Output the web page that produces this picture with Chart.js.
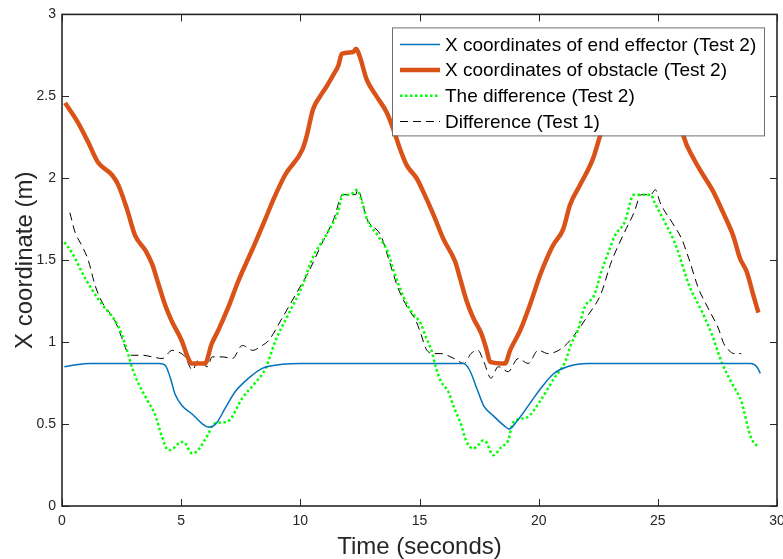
<!DOCTYPE html>
<html>
<head>
<meta charset="utf-8">
<title>X coordinate vs time</title>
<script src="https://cdn.jsdelivr.net/npm/chart.js@4.4.1/dist/chart.umd.min.js"></script>
<style>
    html, body { margin: 0; padding: 0; background: #fff; }
    canvas { display: block; }
</style>
</head>
<body>
<canvas id="plot" width="783" height="559"></canvas>
<script>
// end effector, test 2
const effectorT = [0.1, 0.5, 1.2, 4.1, 4.35, 4.55, 4.75, 5.05, 5.47, 5.9, 6.15, 6.45, 6.86, 7.28, 7.83, 8.4, 9.25, 10.0,
    16.85, 17.1, 17.45, 17.7, 18.1, 18.55, 18.76, 19.1, 19.7, 20.1, 20.65, 21.2, 22.1, 28.9, 29.15, 29.3];
const effectorX = [0.85, 0.86, 0.87, 0.87, 0.855, 0.78, 0.68, 0.61, 0.56, 0.50, 0.48, 0.50, 0.60, 0.70, 0.78, 0.84, 0.865, 0.87,
    0.87, 0.83, 0.70, 0.61, 0.55, 0.49, 0.47, 0.52, 0.64, 0.72, 0.81, 0.85, 0.87, 0.87, 0.85, 0.81];

// obstacle, test 2
const obstacleT = [0.13, 0.67, 1.1, 1.5, 2.1, 2.36, 2.73, 3.07, 3.5, 3.8, 3.95, 4.32, 4.6, 5.02, 5.3, 5.44, 6.0, 6.28, 6.55,
    6.97, 7.39, 7.75, 8.0, 8.5, 8.9, 9.36, 10.1, 10.27, 10.53, 10.83, 11.1, 11.38, 11.6, 11.74, 12.22, 12.34, 12.5,
    12.79, 13.2, 13.63, 13.9, 14.18, 14.46, 14.88, 15.15, 15.58, 16.0, 16.5, 16.7, 16.98, 17.25, 17.6, 17.82, 17.96,
    18.59, 18.8, 19.22, 19.64, 20.06, 20.34, 20.6, 21.03, 21.32, 21.74, 22.28, 22.58, 23.0, 23.6, 24.2, 24.6, 25.0,
    25.4, 25.8, 26.07, 26.5, 26.9, 27.32, 27.74, 28.16, 28.45, 28.73, 29.0, 29.22];
const obstacleX = [2.46, 2.34, 2.22, 2.10, 2.02, 1.96, 1.81, 1.65, 1.56, 1.47, 1.40, 1.23, 1.13, 1.01, 0.90, 0.87, 0.87, 0.99, 1.07,
    1.21, 1.37, 1.49, 1.57, 1.74, 1.88, 2.02, 2.18, 2.26, 2.42, 2.50, 2.56, 2.63, 2.69, 2.76, 2.77, 2.79, 2.74,
    2.60, 2.50, 2.40, 2.30, 2.18, 2.08, 2.00, 1.92, 1.78, 1.63, 1.49, 1.39, 1.25, 1.15, 1.05, 0.95, 0.88,
    0.87, 0.95, 1.07, 1.23, 1.41, 1.51, 1.59, 1.69, 1.84, 1.96, 2.12, 2.26, 2.42, 2.58, 2.70, 2.77, 2.79,
    2.70, 2.45, 2.26, 2.12, 2.02, 1.92, 1.79, 1.65, 1.51, 1.43, 1.29, 1.18];

// difference, test 2
const diff2T = [0.1, 0.4, 0.97, 1.68, 2.23, 2.5, 2.73, 2.95, 3.2, 3.6, 3.9, 4.2, 4.46, 4.75, 4.96, 5.1, 5.47, 5.7, 6.14,
    6.35, 6.73, 7.0, 7.57, 8.1, 8.54, 8.96, 9.5, 10.1, 10.5, 11.15, 11.57, 11.78, 12.1, 12.37, 12.6, 12.8, 13.25,
    13.67, 13.93, 14.35, 14.64, 15.06, 15.27, 15.5, 15.7, 15.9, 16.2, 16.45, 16.74, 16.95, 17.25, 17.45, 17.67, 17.8,
    18.09, 18.43, 18.72, 18.93, 19.5, 20.06, 20.65, 21.08, 21.37, 21.66, 21.92, 22.34, 22.63, 22.93, 23.2, 23.6, 24.0,
    24.7, 24.87, 25.3, 25.7, 25.9, 26.3, 26.84, 27.26, 27.7, 28.1, 28.5, 28.9, 29.2];
const diff2X = [1.61, 1.55, 1.39, 1.23, 1.13, 1.05, 0.95, 0.84, 0.75, 0.64, 0.56, 0.42, 0.34, 0.36, 0.39, 0.39, 0.32, 0.34, 0.44,
    0.50, 0.51, 0.52, 0.66, 0.75, 0.84, 1.01, 1.17, 1.35, 1.51, 1.67, 1.79, 1.90, 1.90, 1.93, 1.85, 1.75, 1.65,
    1.55, 1.43, 1.27, 1.19, 1.11, 1.03, 0.95, 0.84, 0.76, 0.70, 0.60, 0.50, 0.40, 0.35, 0.37, 0.40, 0.39,
    0.31, 0.36, 0.40, 0.51, 0.54, 0.64, 0.78, 0.87, 0.99, 1.08, 1.21, 1.29, 1.43, 1.55, 1.65, 1.73, 1.90,
    1.90, 1.85, 1.73, 1.61, 1.53, 1.35, 1.19, 1.05, 0.87, 0.75, 0.64, 0.42, 0.36];

// difference, test 1
const diff1T = [0.33, 0.55, 0.83, 1.1, 1.38, 1.66, 2.22, 2.5, 2.71, 2.92, 3.37, 3.79, 4.2, 4.63, 4.88, 5.17, 5.47, 5.72, 6.1,
    6.3, 6.73, 7.15, 7.57, 8.0, 8.4, 8.67, 9.25, 9.8, 10.35, 10.9, 11.4, 11.78, 12.33, 12.4, 12.8, 13.38, 13.7, 14.1,
    14.5, 14.85, 15.06, 15.27, 15.6, 15.9, 16.45, 16.87, 17.16, 17.45, 17.7, 18.0, 18.3, 18.72, 19.14, 19.56, 19.98,
    20.4, 20.95, 21.37, 22.1, 22.6, 23.05, 23.6, 24.0, 24.3, 24.7, 24.9, 25.1, 25.6, 26.0, 26.3, 26.7, 27.1, 27.55,
    27.77, 27.98, 28.2, 28.5];
const diff1X = [1.79, 1.67, 1.59, 1.50, 1.35, 1.25, 1.13, 1.03, 0.95, 0.92, 0.92, 0.91, 0.90, 0.95, 0.94, 0.91, 0.83, 0.89, 0.85,
    0.91, 0.91, 0.90, 0.98, 0.95, 0.98, 1.01, 1.15, 1.29, 1.43, 1.60, 1.75, 1.90, 1.90, 1.93, 1.75, 1.65, 1.51, 1.33,
    1.21, 1.13, 1.05, 0.96, 0.93, 0.93, 0.90, 0.87, 0.93, 0.95, 0.88, 0.78, 0.85, 0.82, 0.90, 0.87, 0.95,
    0.93, 0.96, 1.02, 1.17, 1.29, 1.49, 1.67, 1.79, 1.90, 1.90, 1.93, 1.85, 1.73, 1.63, 1.51, 1.33, 1.21, 1.08,
    0.99, 0.95, 0.93, 0.93];

const seriesLabels = [
    'X coordinates of end effector (Test 2)',
    'X coordinates of obstacle (Test 2)',
    'The difference (Test 2)',
    'Difference (Test 1)'
];
const xTicks = [0, 5, 10, 15, 20, 25, 30];
const yTicks = [0, 0.5, 1, 1.5, 2, 2.5, 3];

const FONT = "'Liberation Sans', Arial, Helvetica, sans-serif";
const AXIS_COLOR = '#262626';

function points(ts, xs) {
    return ts.map((t, i) => ({ x: t, y: xs[i] }));
}

// box, inward tick marks and the legend sit on top of the lines
const frameAndLegend = {
    id: 'frameAndLegend',
    afterDatasetsDraw(chart) {
        const { ctx, chartArea: a, scales: { x, y } } = chart;
        ctx.save();

        ctx.strokeStyle = AXIS_COLOR;
        ctx.lineWidth = 1;
        ctx.beginPath();
        xTicks.forEach(v => {
            const px = Math.round(x.getPixelForValue(v)) + 0.5;
            ctx.moveTo(px, a.bottom); ctx.lineTo(px, a.bottom - 7);
            ctx.moveTo(px, a.top);    ctx.lineTo(px, a.top + 7);
        });
        yTicks.forEach(v => {
            const py = Math.round(y.getPixelForValue(v)) + 0.5;
            ctx.moveTo(a.left, py);  ctx.lineTo(a.left + 7, py);
            ctx.moveTo(a.right, py); ctx.lineTo(a.right - 7, py);
        });
        ctx.stroke();

        ctx.lineWidth = 1.6;
        ctx.strokeRect(a.left, a.top, a.right - a.left, a.bottom - a.top);

        // legend box, upper right corner
        const ds = chart.data.datasets;
        const w = 372, h = 108;
        const lx = a.right - 13 - w, ly = a.top + 13;
        ctx.fillStyle = '#fff';
        ctx.fillRect(lx, ly, w, h);
        ctx.strokeStyle = '#6e6e6e';
        ctx.lineWidth = 1;
        ctx.strokeRect(lx + 0.5, ly + 0.5, w, h);

        ctx.font = '19px ' + FONT;
        ctx.textBaseline = 'middle';
        ctx.textAlign = 'left';
        ds.forEach((d, i) => {
            const ry = ly + 17 + i * 25.7;
            ctx.strokeStyle = d.borderColor;
            ctx.lineWidth = d.borderWidth;
            ctx.setLineDash(d.borderDash || []);
            ctx.beginPath();
            ctx.moveTo(lx + 8, ry);
            ctx.lineTo(lx + 48, ry);
            ctx.stroke();
            ctx.setLineDash([]);
            ctx.fillStyle = '#000';
            ctx.fillText(d.label, lx + 53, ry + 1);
        });

        ctx.restore();
    }
};

new Chart(document.getElementById('plot'), {
    type: 'line',
    data: {
        datasets: [
            {
                label: seriesLabels[0],
                data: points(effectorT, effectorX),
                borderColor: '#0072BD',
                borderWidth: 1.5
            },
            {
                label: seriesLabels[1],
                data: points(obstacleT, obstacleX),
                borderColor: '#D95319',
                borderWidth: 4.5
            },
            {
                label: seriesLabels[2],
                data: points(diff2T, diff2X),
                borderColor: '#00FF00',
                borderWidth: 2.5,
                borderDash: [2.5, 2.5]
            },
            {
                label: seriesLabels[3],
                data: points(diff1T, diff1X),
                borderColor: '#000000',
                borderWidth: 1,
                borderDash: [8, 5]
            }
        ]
    },
    options: {
        responsive: false,
        animation: false,
        layout: { padding: { top: 12, right: 6, left: 0, bottom: 0 } },
        elements: {
            point: { radius: 0 },
            line: { cubicInterpolationMode: 'monotone', fill: false }
        },
        plugins: {
            legend: { display: false },
            tooltip: { enabled: false }
        },
        scales: {
            x: {
                type: 'linear',
                min: 0,
                max: 30,
                afterBuildTicks: s => { s.ticks = xTicks.map(v => ({ value: v })); },
                afterFit: s => {
                    s.height = 53;
                    // let the last label run past the box instead of shrinking it
                    s.paddingLeft = 0;
                    s.paddingRight = 0;
                },
                grid: { display: false, drawTicks: false },
                border: { display: false },
                ticks: {
                    color: AXIS_COLOR,
                    padding: 7,
                    font: { family: FONT, size: 14 },
                    callback: v => String(v)
                },
                title: {
                    display: true,
                    text: 'Time (seconds)',
                    color: AXIS_COLOR,
                    padding: 0,
                    font: { family: FONT, size: 24, lineHeight: 1 }
                }
            },
            y: {
                type: 'linear',
                min: 0,
                max: 3,
                afterBuildTicks: s => { s.ticks = yTicks.map(v => ({ value: v })); },
                afterFit: s => { s.width = 62; },
                grid: { display: false, drawTicks: false },
                border: { display: false },
                ticks: {
                    color: AXIS_COLOR,
                    padding: 6,
                    font: { family: FONT, size: 14 },
                    callback: v => String(v)
                },
                title: {
                    display: true,
                    text: 'X coordinate (m)',
                    color: AXIS_COLOR,
                    padding: { top: 13, bottom: 0 },
                    font: { family: FONT, size: 24, lineHeight: 1 }
                }
            }
        }
    },
    plugins: [frameAndLegend]
});
</script>
</body>
</html>
